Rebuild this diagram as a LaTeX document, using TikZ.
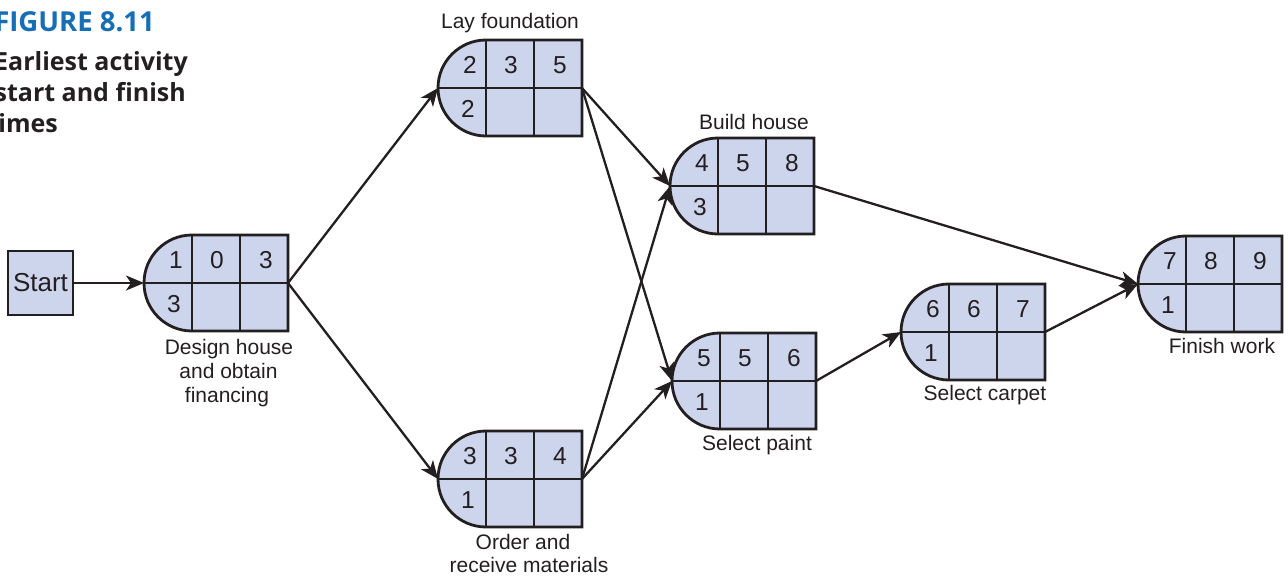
\documentclass[tikz,border=0pt]{standalone}
\usepackage{fontspec}
\setmainfont{Liberation Sans}
\newfontfamily\titlefont{Open Sans}
\usetikzlibrary{arrows.meta}
\definecolor{actfill}{RGB}{205,213,237}
\definecolor{ink}{RGB}{35,31,32}
\definecolor{figblue}{RGB}{22,110,182}
\tikzset{
  actshape/.style={fill=actfill, draw=ink, line width=2.8pt, line join=miter},
  actline/.style={draw=ink, line width=2.8pt},
  digit/.style={inner sep=0pt, font=\fontsize{24.5}{24}\selectfont, text=ink},
  lbl/.style={inner sep=0pt, anchor=base, font=\fontsize{21}{24}\selectfont, text=ink},
  conn/.style={draw=ink, line width=2.3pt, -{Stealth[length=18pt,width=15pt,inset=5pt]}},
  startbox/.style={fill=actfill, draw=ink, line width=2.8pt, minimum width=65pt, minimum height=64pt, inner sep=0pt, font=\fontsize{26}{26}\selectfont, text=ink},
  titletext/.style={inner sep=0pt, anchor=base east, font=\titlefont\bfseries\fontsize{25}{30}\selectfont, text=ink},
  figtext/.style={inner sep=0pt, anchor=base east, font=\titlefont\bfseries\fontsize{27.5}{30}\selectfont, text=figblue}
}
% #1 name, #2 box left x, #3 mid y (image coords), #4 #5 #6 top row, #7 bottom-left
\newcommand{\actbox}[7]{%
  \coordinate (#1-in) at (#2-48,-#3);
  \coordinate (#1-out) at (#2+96,-#3);
  \path[actshape, draw=none] (#2+96,-#3+48) -- (#2,-#3+48) arc[start angle=90, end angle=270, radius=48] -- (#2+96,-#3-48) -- cycle;
  \draw[actline] (#1-in) -- (#1-out);
  \draw[actline] (#2,-#3+48) -- (#2,-#3-48);
  \draw[actline] (#2+48,-#3+48) -- (#2+48,-#3-48);
  \path[actshape, fill=none] (#2+96,-#3+48) -- (#2,-#3+48) arc[start angle=90, end angle=270, radius=48] -- (#2+96,-#3-48) -- cycle;
  \node[digit] (#1-a) at (#2-16,-#3+23) {#4};
  \node[digit] (#1-b) at (#2+25,-#3+23) {#5};
  \node[digit] (#1-c) at (#2+74,-#3+23) {#6};
  \node[digit] (#1-d) at (#2-18,-#3-21) {#7};
}
\begin{document}
\begin{tikzpicture}[x=1pt,y=1pt]
\useasboundingbox (0,0) rectangle (1288,-576);
\clip (0,0) rectangle (1288,-576);

% title
\node[figtext] (figno) at (155,-31) {FIGURE 8.11};
\node[titletext] (cap1) at (188,-70) {Earliest activity};
\node[titletext] (cap2) at (186,-101) {start and finish};
\node[titletext] (cap3) at (58,-132) {times};

% start
\node[startbox] (start) at (40.5,-283) {Start};

% activities
\actbox{design}{192}{283}{1}{0}{3}{3}
\actbox{lay}{486}{88}{2}{3}{5}{2}
\actbox{order}{486}{479}{3}{3}{4}{1}
\actbox{build}{718}{186}{4}{5}{8}{3}
\actbox{paint}{720}{381}{5}{5}{6}{1}
\actbox{carpet}{949}{332}{6}{6}{7}{1}
\actbox{finish}{1186}{284}{7}{8}{9}{1}

% labels
\node[lbl] (lay-l) at (510,-28) {Lay foundation};
\node[lbl] (build-l) at (754,-129) {Build house};
\node[lbl] (design-l1) at (229,-354) {Design house};
\node[lbl] (design-l2) at (228.5,-378) {and obtain};
\node[lbl] (design-l3) at (227,-402) {financing};
\node[lbl] (paint-l) at (757,-450) {Select paint};
\node[lbl] (carpet-l) at (985,-400) {Select carpet};
\node[lbl] (finish-l) at (1222,-353) {Finish work};
\node[lbl] (order-l1) at (523,-549) {Order and};
\node[lbl] (order-l2) at (529,-572) {receive materials};

% connectors
\draw[conn] (start.east) -- (design-in);
\draw[conn] (design-out) -- (lay-in);
\draw[conn] (design-out) -- (order-in);
\draw[conn] (lay-out) -- (build-in);
\draw[conn] (lay-out) -- (paint-in);
\draw[conn] (order-out) -- (build-in);
\draw[conn] (order-out) -- (paint-in);
\draw[conn] (build-out) -- (finish-in);
\draw[conn] (paint-out) -- (carpet-in);
\draw[conn] (carpet-out) -- (finish-in);
\end{tikzpicture}
\end{document}
